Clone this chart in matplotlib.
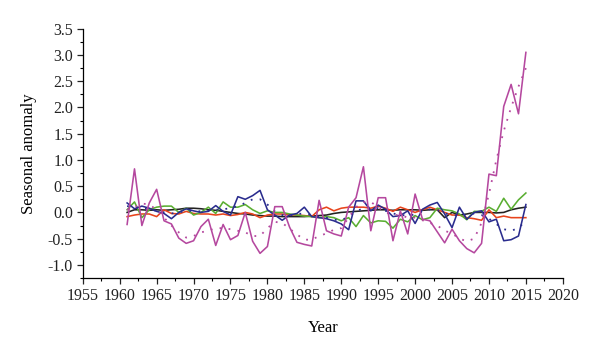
import numpy as np
import matplotlib
matplotlib.use("Agg")
import matplotlib.pyplot as plt
from matplotlib.ticker import MultipleLocator

years = np.arange(1961, 2016)

purple = [-0.23, 0.83, -0.25, 0.18, 0.44, -0.16, -0.22, -0.49, -0.59, -0.54,
          -0.27, -0.13, -0.63, -0.23, -0.52, -0.44, 0.00, -0.55, -0.78, -0.65,
          0.11, 0.11, -0.28, -0.57, -0.61, -0.64, 0.23, -0.35, -0.41, -0.45,
          0.10, 0.28, 0.87, -0.35, 0.28, 0.28, -0.54, 0.03, -0.41, 0.35,
          -0.13, -0.16, -0.37, -0.58, -0.32, -0.54, -0.69, -0.77, -0.59, 0.73,
          0.70, 2.02, 2.44, 1.88, 3.05]
purple_trend = [0.05, 0.10, 0.17, 0.15, 0.05, -0.10, -0.25, -0.38, -0.48, -0.45,
                -0.38, -0.35, -0.30, -0.30, -0.32, -0.35, -0.38, -0.45, -0.45, -0.30,
                -0.18, -0.20, -0.31, -0.42, -0.52, -0.52, -0.45, -0.40, -0.33, -0.30,
                -0.10, 0.10, 0.20, 0.20, 0.10, 0.00, -0.05, -0.05, -0.10, -0.10,
                -0.15, -0.20, -0.25, -0.35, -0.40, -0.50, -0.55, -0.50, -0.20, 0.35,
                1.00, 1.55, 2.00, 2.40, 2.75]
blue = [0.18, 0.07, 0.12, 0.08, 0.02, -0.02, -0.12, 0.00, 0.07, 0.03,
        0.00, 0.02, 0.13, 0.02, -0.05, 0.30, 0.25, 0.32, 0.42, 0.05,
        -0.05, -0.15, -0.05, -0.02, 0.10, -0.08, -0.10, -0.12, -0.16, -0.22,
        -0.33, 0.22, 0.22, 0.03, 0.14, 0.06, -0.08, -0.06, 0.03, -0.21,
        0.06, 0.14, 0.19, -0.03, -0.29, 0.10, -0.13, 0.00, 0.03, -0.18,
        -0.13, -0.54, -0.52, -0.45, 0.15]
blue_trend = [0.12, 0.10, 0.08, 0.06, 0.03, 0.00, -0.02, 0.00, 0.03, 0.03,
              0.02, 0.03, 0.05, 0.06, 0.08, 0.12, 0.18, 0.25, 0.25, 0.15,
              0.02, -0.05, -0.06, -0.03, -0.02, -0.05, -0.08, -0.10, -0.14, -0.15,
              -0.08, 0.02, 0.08, 0.10, 0.08, 0.03, -0.02, -0.05, -0.06, -0.04,
              0.02, 0.06, 0.05, -0.02, -0.05, -0.06, -0.05, -0.02, -0.05, -0.12,
              -0.22, -0.32, -0.35, -0.30, -0.15]
green = [0.05, 0.20, -0.10, 0.05, 0.10, 0.12, 0.12, 0.00, 0.08, -0.05,
         0.00, 0.10, -0.02, 0.20, 0.10, 0.10, 0.15, 0.05, -0.02, 0.03,
         0.00, 0.00, -0.03, -0.05, -0.07, -0.08, -0.10, -0.08, -0.10, -0.16,
         -0.10, -0.27, -0.06, -0.20, -0.16, -0.17, -0.30, -0.13, -0.18, -0.06,
         -0.14, -0.10, 0.08, 0.05, 0.03, -0.03, -0.14, 0.02, 0.02, 0.10,
         0.02, 0.27, 0.06, 0.24, 0.37]
red = [-0.08, -0.05, -0.03, -0.03, -0.08, 0.05, -0.02, -0.03, 0.02, -0.02,
       -0.03, -0.03, -0.05, -0.03, -0.06, -0.04, 0.00, -0.03, -0.10, -0.05,
       -0.03, -0.03, -0.05, -0.05, -0.06, -0.08, 0.05, 0.10, 0.03, 0.08,
       0.10, 0.10, 0.10, 0.08, 0.12, 0.08, 0.02, 0.10, 0.05, 0.00,
       0.05, 0.10, 0.05, 0.00, -0.05, -0.05, -0.10, -0.12, -0.15, 0.05,
       -0.10, -0.07, -0.10, -0.10, -0.10]
black = [0.00, 0.05, 0.05, 0.04, 0.05, 0.04, 0.05, 0.06, 0.08, 0.08,
         0.07, 0.05, 0.04, 0.02, 0.00, -0.02, -0.03, -0.05, -0.06, -0.07,
         -0.07, -0.08, -0.08, -0.08, -0.08, -0.07, -0.06, -0.05, -0.02, 0.00,
         0.01, 0.02, 0.03, 0.04, 0.05, 0.05, 0.04, 0.05, 0.05, 0.05,
         0.04, 0.05, 0.05, -0.10, 0.00, -0.05, -0.03, 0.00, 0.00, 0.00,
         -0.01, 0.00, 0.05, 0.08, 0.10]

C_PURPLE = "#b5489f"
C_BLUE = "#2a2c8e"
C_GREEN = "#5aae32"
C_RED = "#e8441c"
C_BLACK = "#222222"

plt.rcParams["font.family"] = ["Liberation Serif", "DejaVu Serif"]

fig = plt.figure(figsize=(6.0, 3.51), dpi=100)
ax = fig.add_axes([0.138, 0.208, 0.800, 0.710])

lw = 1.15
ax.plot(years, black, color=C_BLACK, lw=lw)
ax.plot(years, red, color=C_RED, lw=lw)
ax.plot(years, green, color=C_GREEN, lw=lw)
ax.plot(years, blue_trend, color=C_BLUE, lw=1.3, ls=(0, (1, 4)))
ax.plot(years, blue, color=C_BLUE, lw=lw)
ax.plot(years, purple_trend, color=C_PURPLE, lw=1.3, ls=(0, (1, 4)))
ax.plot(years, purple, color=C_PURPLE, lw=lw)

ax.set_xlim(1955, 2020)
ax.set_ylim(-1.25, 3.5)
ax.xaxis.set_major_locator(MultipleLocator(5))
ax.xaxis.set_minor_locator(MultipleLocator(2.5))
ax.yaxis.set_minor_locator(MultipleLocator(0.25))
ax.set_yticks(np.arange(-1.0, 3.51, 0.5))
ax.set_yticklabels([f"{v:.1f}" for v in np.arange(-1.0, 3.51, 0.5)])

for s in ("top", "right"):
    ax.spines[s].set_visible(False)
for s in ("left", "bottom"):
    ax.spines[s].set_linewidth(0.9)
ax.tick_params(which="major", length=4, width=0.9, labelsize=11.5,
               pad=3, colors="#222222")
ax.tick_params(which="minor", length=2.5, width=0.8)

ax.set_xlabel("Year", fontsize=12, labelpad=12)
ax.set_ylabel("Seasonal anomaly", fontsize=12, labelpad=8)

fig.savefig("out.png", dpi=100)
